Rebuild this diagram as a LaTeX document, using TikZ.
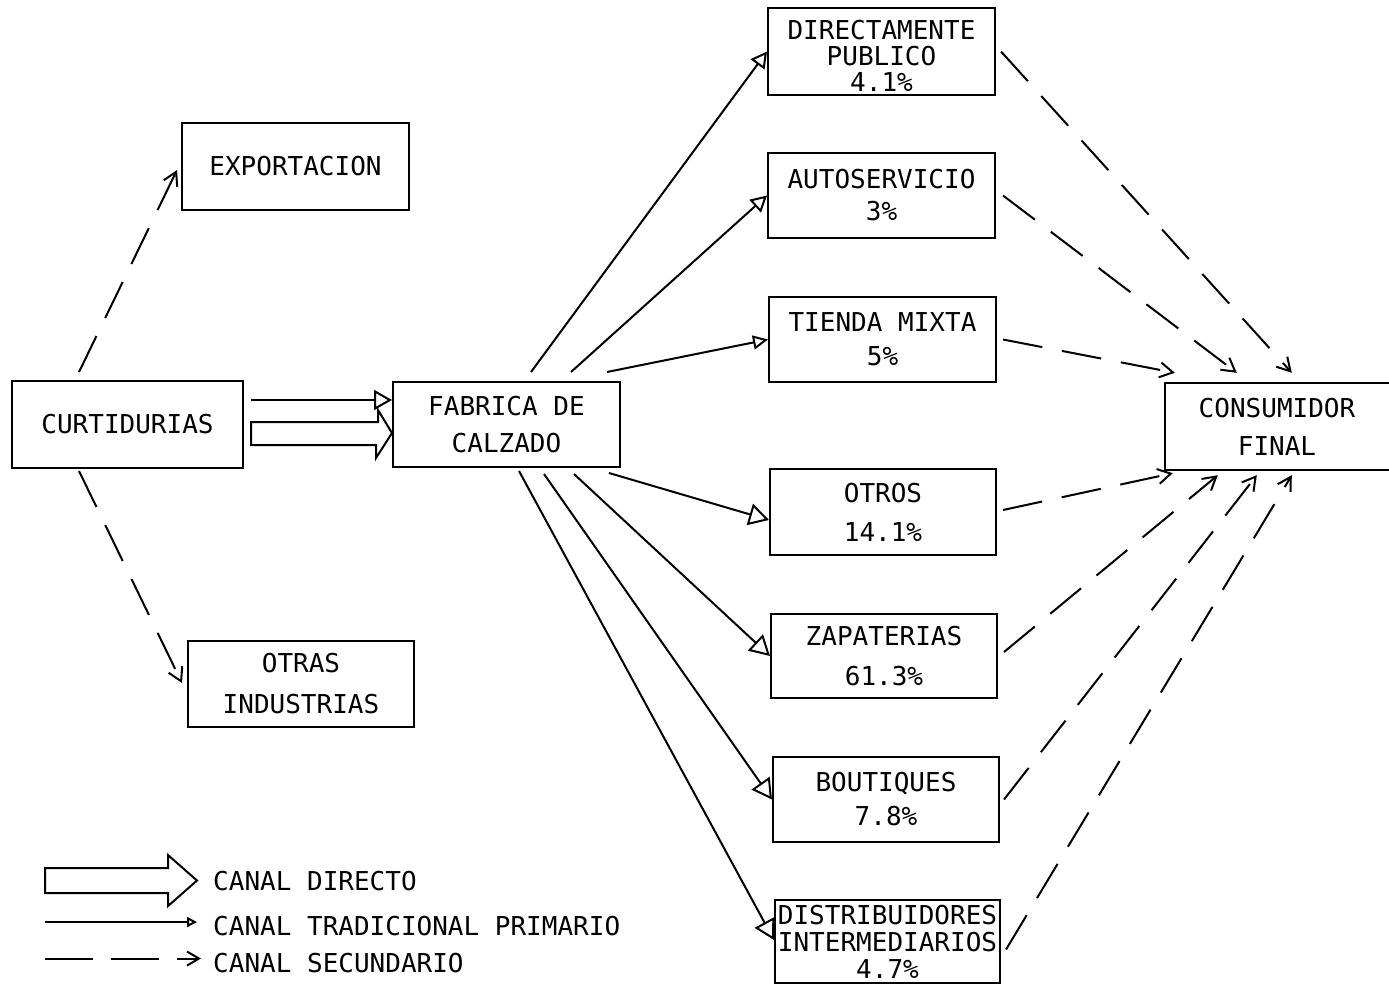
\documentclass[tikz,border=0pt]{standalone}
\usepackage{fontspec}
\newfontfamily\plotfont{DejaVu Sans Mono}
\usetikzlibrary{arrows.meta,calc}
\newcommand\pf[1]{\plotfont\fontsize{26}{#1}\selectfont}
\begin{document}
\begin{tikzpicture}[x=1pt,y=-1pt,
  box/.style={draw, line width=2pt, align=center, inner sep=0pt},
  prim/.style={line width=2pt, -{Triangle[open,length=20pt,width=22pt]}},
  primsm/.style={line width=2pt, -{Triangle[open,length=16pt,width=17pt]}},
  sec/.style={line width=2pt, dash pattern=on 40pt off 20pt, -{Straight Barb[length=13pt,width=15pt]}},
  legtext/.style={anchor=base west, inner sep=0pt, font=\pf{30}}]
\useasboundingbox (0,0) rectangle (1389,985);
\fill[white] (0,0) rectangle (1389,985);

% boxes
\node[box,minimum width=231pt,minimum height=87pt,font=\pf{30}] (curt) at (127.5,424.5) {CURTIDURIAS};
\node[box,minimum width=227pt,minimum height=87pt,font=\pf{30}] (expo) at (295.5,166.5) {EXPORTACION};
\node[box,minimum width=226pt,minimum height=86pt,font=\pf{41}] (otras) at (301,684) {OTRAS\\INDUSTRIAS};
\node[box,minimum width=227pt,minimum height=85pt,font=\pf{37}] (fab) at (506.5,424.5) {FABRICA DE\\CALZADO};
\node[box,minimum width=227pt,minimum height=87pt,font=\pf{26}] (dir) at (881.5,51.5) {\rule{0pt}{27pt}DIRECTAMENTE\\PUBLICO\\4.1\%};
\node[box,minimum width=227pt,minimum height=85pt,font=\pf{32}] (auto) at (881.5,195.5) {AUTOSERVICIO\\3\%};
\node[box,minimum width=227pt,minimum height=85pt,font=\pf{34}] (tienda) at (882.5,339.5) {TIENDA MIXTA\\5\%};
\node[box,minimum width=226pt,minimum height=86pt,font=\pf{39}] (otros) at (883,512) {OTROS\\14.1\%};
\node[box,minimum width=226pt,minimum height=84pt,font=\pf{40}] (zap) at (884,656) {ZAPATERIAS\\61.3\%};
\node[box,minimum width=226pt,minimum height=85pt,font=\pf{34}] (bout) at (886,799.5) {BOUTIQUES\\7.8\%};
\node[box,minimum width=225pt,minimum height=83pt,font=\pf{27}] (dist) at (887.5,941.5) {DISTRIBUIDORES\\INTERMEDIARIOS\\4.7\%};
\node[minimum width=224pt,minimum height=87pt,align=center,inner sep=0pt,font=\pf{38}] (cons) at (1277,426.5) {CONSUMIDOR\\FINAL};
\draw[line width=2pt] (cons.north east) -- (cons.north west) -- (cons.south west) -- (cons.south east);

% direct channel curtidurias -> fabrica
\draw[line width=2pt] ($(curt.east)+(7,-2.5)$) -- ++(127,0) -- ++(0,-12) -- ($(fab.west)+(0,8.5)$) -- ++(-16,25) -- ++(0,-13) -- ($(curt.east)+(7,20.5)$) -- cycle;
\draw[line width=2pt, -{Triangle[open,length=18pt,width=20pt]}] ($(curt.east)+(7,-24.5)$) -- ($(fab.west)+(0,-24.5)$);

% secondary from curtidurias
\draw[sec] ($(curt.north west)+(68,-8)$) -- ($(expo.west)+(-4,3.5)$);
\draw[sec] ($(curt.south west)+(68,2)$) -- ($(otras.west)+(-5,-1)$);

% primary from fabrica
\draw[primsm] ($(fab.north west)+(139,-9)$) -- (dir.west);
\draw[primsm] ($(fab.north west)+(179,-9)$) -- (auto.west);
\draw[line width=2pt, -{Triangle[open,length=15pt,width=14pt]}] ($(fab.north west)+(215,-9)$) -- (tienda.west);
\draw[prim] ($(fab.south west)+(217,5)$) -- ($(otros.west)+(0,8)$);
\draw[prim] ($(fab.south west)+(182,6)$) -- (zap.west);
\draw[prim] ($(fab.south west)+(152,6)$) -- (bout.west);
\draw[prim] ($(fab.south west)+(127,3)$) -- ($(dist.west)+(0,-1.5)$);

% secondary to consumidor
\draw[sec] ($(dir.east)+(5,0)$) -- ($(cons.north west)+(127,-10)$);
\draw[sec] ($(auto.east)+(7,0)$) -- ($(cons.north west)+(72,-10)$);
\draw[sec] ($(tienda.east)+(6,0)$) -- ($(cons.north west)+(10,-10)$);
\draw[sec] ($(otros.east)+(6,-2)$) -- ($(cons.south west)+(8,3)$);
\draw[sec] ($(zap.east)+(6,-4)$) -- ($(cons.south west)+(53,5)$);
\draw[sec] ($(bout.east)+(4,0)$) -- ($(cons.south west)+(92,5)$);
\draw[sec] ($(dist.east)+(5,8)$) -- ($(cons.south west)+(127,5)$);

% legend
\node[legtext] (lgA) at (213,890) {CANAL DIRECTO};
\node[legtext] (lgB) at (213,935) {CANAL TRADICIONAL PRIMARIO};
\node[legtext] (lgC) at (213,972) {CANAL SECUNDARIO};
\draw[line width=2pt] ($(lgA.west)+(-168,-12.5)$) -- ++(123,0) -- ++(0,-13) -- ($(lgA.west)+(-16,0)$) -- ++(-29,25.5) -- ++(0,-13) -- ++(-123,0) -- cycle;
\draw[line width=2pt, -{Triangle[open,length=10pt,width=10pt]}] ($(lgB.west)+(-168,-3.5)$) -- ($(lgB.west)+(-16,-3.5)$);
\draw[line width=2pt, dash pattern=on 48pt off 18pt, -{Straight Barb[length=12pt,width=14pt]}] ($(lgC.west)+(-168,-4)$) -- ($(lgC.west)+(-12,-4)$);
\end{tikzpicture}
\end{document}
